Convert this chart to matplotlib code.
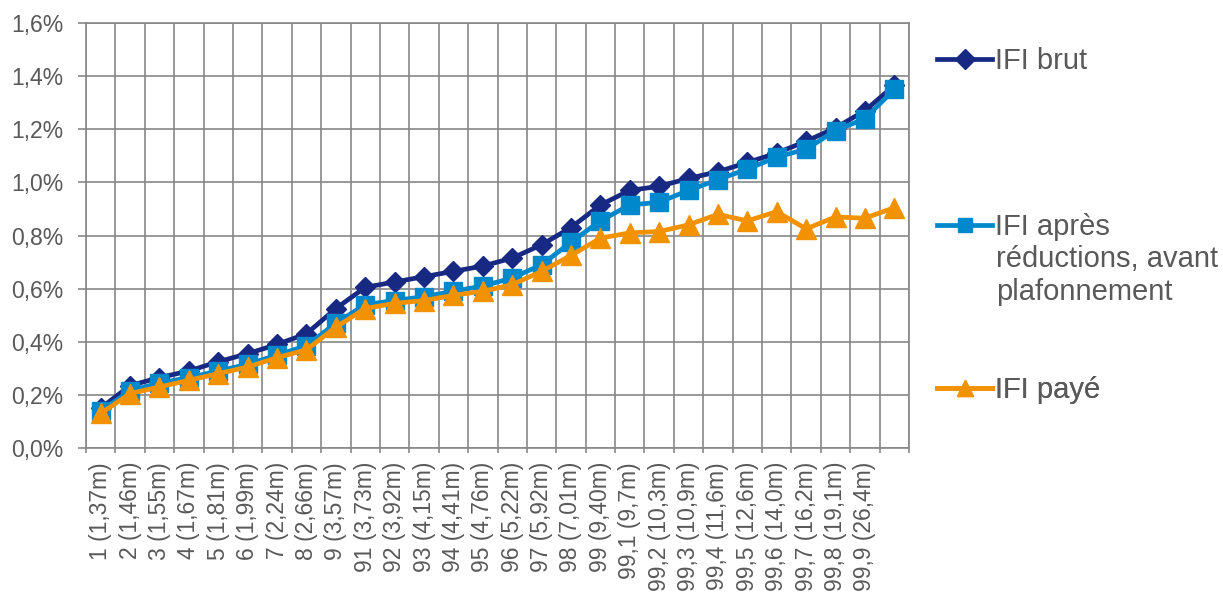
import matplotlib
matplotlib.use("Agg")
import matplotlib.pyplot as plt
from matplotlib.ticker import FixedLocator

plt.rcParams['font.family'] = ['Liberation Sans', 'DejaVu Sans']

categories = ["1 (1,37m)", "2 (1,46m)", "3 (1,55m)", "4 (1,67m)", "5 (1,81m)",
              "6 (1,99m)", "7 (2,24m)", "8 (2,66m)", "9 (3,57m)", "91 (3,73m)",
              "92 (3,92m)", "93 (4,15m)", "94 (4,41m)", "95 (4,76m)", "96 (5,22m)",
              "97 (5,92m)", "98 (7,01m)", "99 (9,40m)", "99,1 (9,7m)", "99,2 (10,3m)",
              "99,3 (10,9m)", "99,4 (11,6m)", "99,5 (12,6m)", "99,6 (14,0m)",
              "99,7 (16,2m)", "99,8 (19,1m)", "99,9 (26,4m)", ""]

ifi_brut = [0.15, 0.235, 0.265, 0.29, 0.325, 0.355, 0.39, 0.43, 0.525, 0.605,
            0.625, 0.645, 0.665, 0.685, 0.715, 0.765, 0.83, 0.915, 0.97, 0.985,
            1.015, 1.04, 1.075, 1.11, 1.155, 1.205, 1.27, 1.365]
ifi_apres = [0.14, 0.215, 0.245, 0.265, 0.29, 0.315, 0.35, 0.385, 0.47, 0.54,
             0.555, 0.57, 0.59, 0.61, 0.64, 0.69, 0.775, 0.855, 0.915, 0.925,
             0.97, 1.01, 1.05, 1.095, 1.125, 1.195, 1.24, 1.35]
ifi_paye = [0.13, 0.205, 0.23, 0.255, 0.28, 0.305, 0.34, 0.37, 0.455, 0.525,
            0.545, 0.555, 0.575, 0.59, 0.615, 0.665, 0.725, 0.79, 0.81, 0.815,
            0.84, 0.88, 0.855, 0.89, 0.825, 0.87, 0.865, 0.905]

y_ticks = [0.0, 0.2, 0.4, 0.6, 0.8, 1.0, 1.2, 1.4, 1.6]
y_labels = ["0,0%", "0,2%", "0,4%", "0,6%", "0,8%", "1,0%", "1,2%", "1,4%", "1,6%"]

c_brut = '#172983'
c_apres = '#0088CC'
c_paye = '#F39200'
grid_c = '#878787'
text_c = '#595959'

fig = plt.figure(figsize=(12.23, 5.94), dpi=100)
ax = fig.add_axes([86/1223, 1-448/594, (909-86)/1223, (448-23)/594])

x = list(range(len(ifi_brut)))
l1, = ax.plot(x, ifi_brut, color=c_brut, lw=3.4, marker='D', ms=10.5, zorder=3,
              solid_joinstyle='round')
l2, = ax.plot(x, ifi_apres, color=c_apres, lw=3.4, marker='s', ms=12.5, zorder=4,
              solid_joinstyle='round')
l3, = ax.plot(x, ifi_paye, color=c_paye, lw=3.4, marker='^', ms=14, zorder=5,
              solid_joinstyle='round')

n = len(ifi_brut)
ax.set_xlim(-0.5, n - 0.5)
ax.set_ylim(0, 1.6)

ax.set_xticks(range(len(categories)))
ax.set_xticklabels(categories, rotation=90, va='top', ha='center',
                   fontsize=16.5, color=text_c)
ax.xaxis.set_minor_locator(FixedLocator([i - 0.5 for i in range(n + 1)]))
ax.tick_params(axis='x', which='major', length=0, pad=10)
ax.tick_params(axis='x', which='minor', length=3.6, width=1.2, color=grid_c)

ax.set_yticks(y_ticks)
ax.set_yticklabels(y_labels, fontsize=16.5, color=text_c)
ax.tick_params(axis='y', which='major', length=5.8, width=1.2, color=grid_c, pad=10.5)

ax.grid(True, axis='x', which='minor', color=grid_c, lw=1.2)
ax.grid(True, axis='y', which='major', color=grid_c, lw=1.2)
ax.set_axisbelow(True)
for s in ax.spines.values():
    s.set_color(grid_c)
    s.set_linewidth(1.2)

leg_kw = dict(loc='center left', bbox_transform=fig.transFigure, frameon=False,
              fontsize=21, handlelength=1.9, handletextpad=0.08, borderpad=0,
              borderaxespad=0, labelcolor=text_c)

def legend_entry(line, label, yc, ms):
    h = plt.Line2D([], [], color=line.get_color(), lw=3.4,
                   marker=line.get_marker(), ms=ms)
    lg = ax.legend([h], [label], bbox_to_anchor=(937/1223, 1 - yc/594), **leg_kw)
    ax.add_artist(lg)

legend_entry(l1, "IFI brut", 61, 10)
legend_entry(l2, "IFI après", 227, 10.5)
legend_entry(l3, "IFI payé", 390, 12)
fig.text(996/1223, 1 - 259/594, "réductions, avant", fontsize=21, color=text_c,
         va='center', ha='left')
fig.text(996/1223, 1 - 292/594, "plafonnement", fontsize=21, color=text_c,
         va='center', ha='left')

fig.savefig("out.png", dpi=100)
